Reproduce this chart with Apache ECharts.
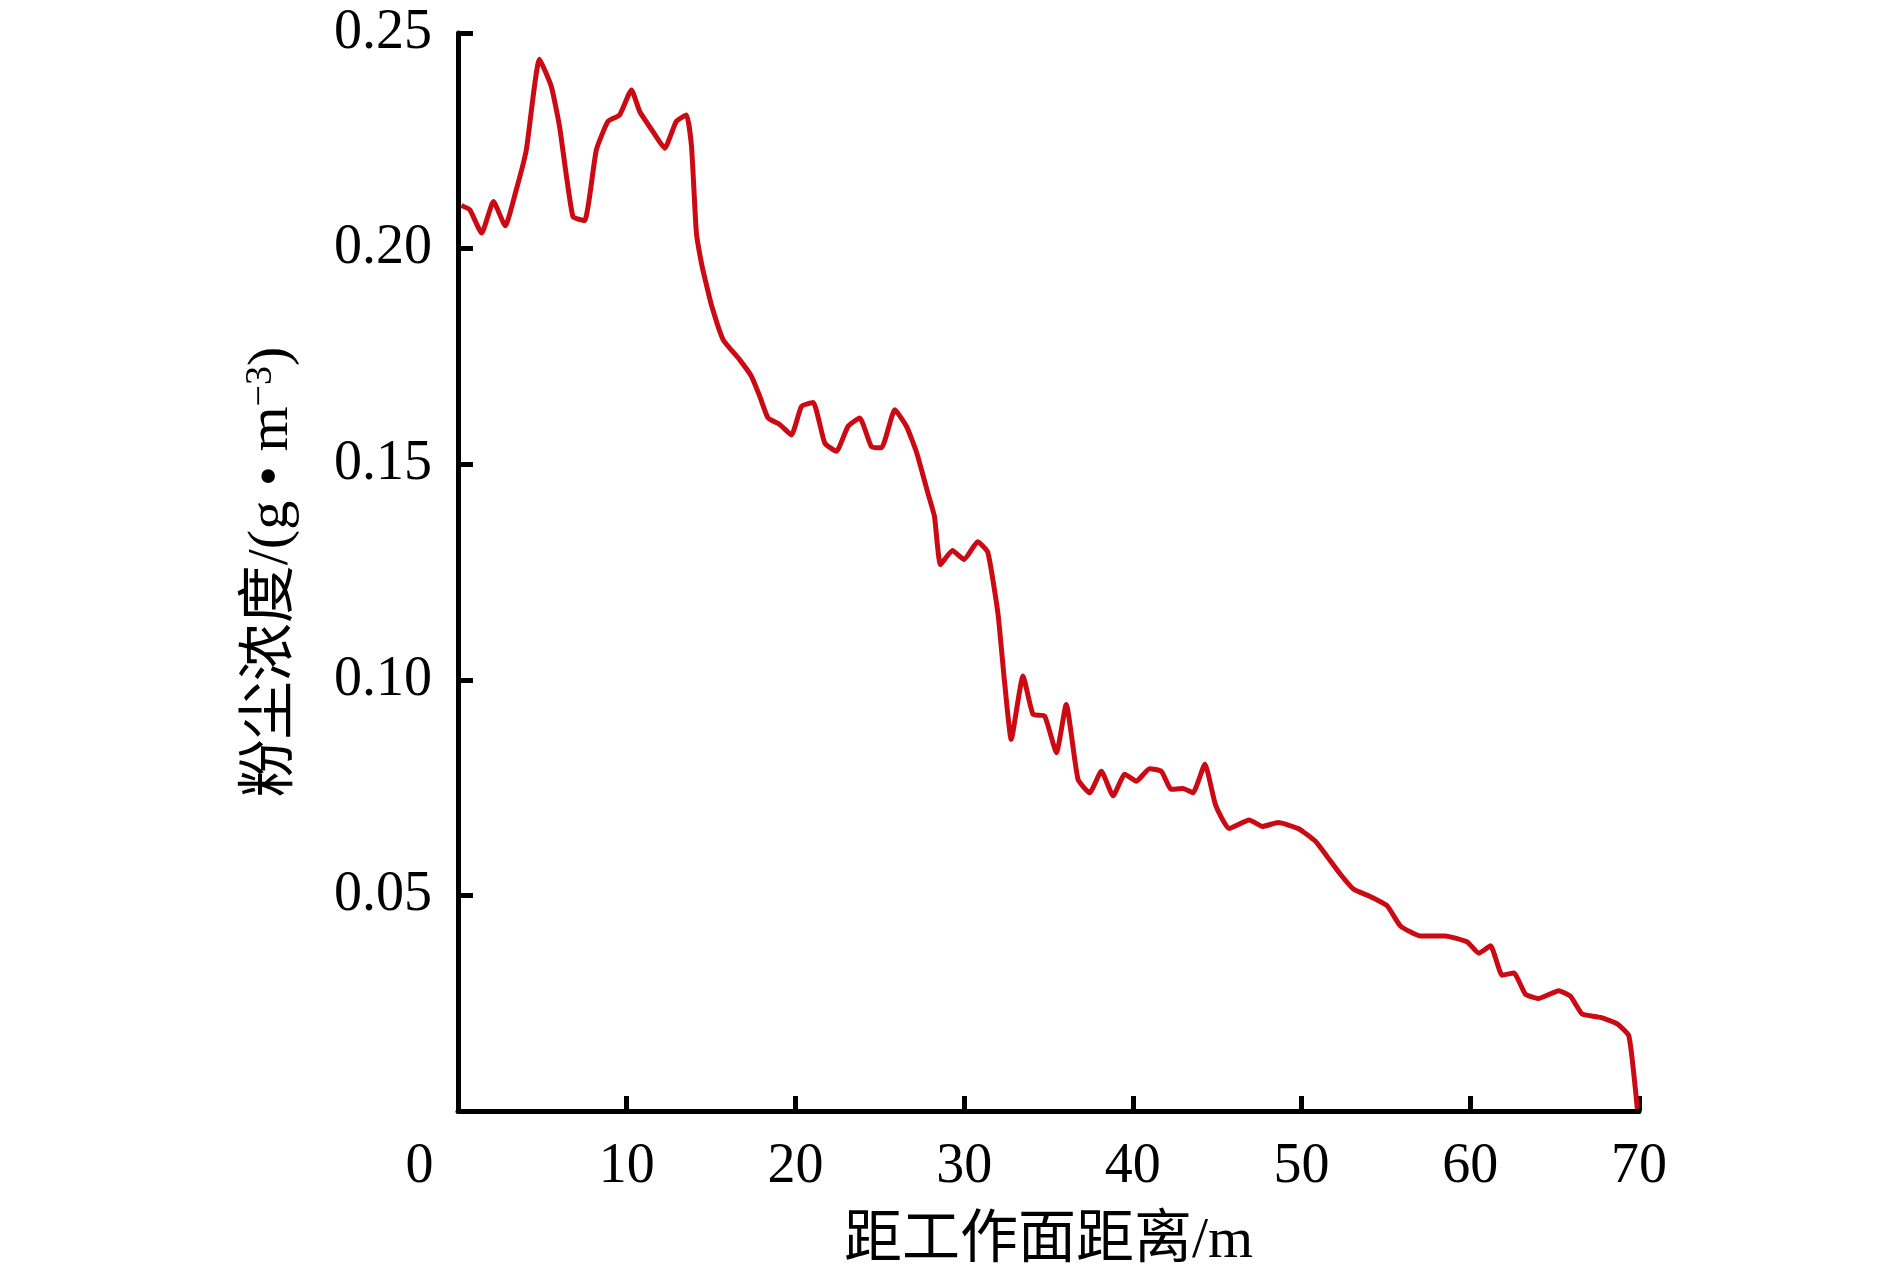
<!DOCTYPE html>
<html>
<head>
<meta charset="utf-8">
<title>粉尘浓度</title>
<script src="https://cdn.jsdelivr.net/npm/echarts@6/dist/echarts.min.js"></script>
<style>
  html, body { margin: 0; padding: 0; background: #fff; }
  #chartBox { width: 1890px; height: 1276px; }
</style>
</head>
<body>
<div id="chartBox"></div>
<script>
// 距工作面距离 (m)
let dist = [
  0.2, 0.7, 1.4, 2.1, 2.8, 3.45, 4.05, 4.83, 5.53, 6.02,
  6.81, 7.5, 8.2, 8.89, 9.58, 10.28, 10.77, 11.56, 12.25, 12.94,
  13.54, 13.84, 14.13, 14.43, 14.7, 15.05, 15.71, 16.7, 17.39, 17.89,
  18.38, 19.07, 19.76, 20.36, 21.05, 21.74, 22.43, 23.12, 23.81, 24.5,
  25.1, 25.89, 26.58, 27.2, 27.85, 28.24, 28.6, 29.3, 30.0, 30.8,
  31.4, 32.0, 32.4, 32.79, 33.49, 34.08, 34.77, 35.47, 36.05, 36.75,
  37.44, 38.13, 38.83, 39.52, 40.21, 40.99, 41.69, 42.28, 42.97, 43.56,
  44.27, 44.9, 45.7, 46.9, 47.68, 48.62, 49.8, 50.81, 51.5, 52.3,
  53.09, 53.98, 55.07, 55.86, 57.05, 58.52, 59.82, 60.5, 61.2, 61.89,
  62.58, 63.27, 64.06, 65.25, 65.94, 66.63, 67.72, 68.71, 69.4, 69.9
]
// 粉尘浓度 (g·m^-3)
let conc = [
  0.2100, 0.2090, 0.2036, 0.2109, 0.2053, 0.2136, 0.2229, 0.2439, 0.2376, 0.2283,
  0.2074, 0.2065, 0.2229, 0.2295, 0.2310, 0.2368, 0.2318, 0.2271, 0.2233, 0.2295,
  0.2310, 0.2237, 0.2036, 0.1966, 0.1920, 0.1865, 0.1789, 0.1742, 0.1704, 0.1657,
  0.1607, 0.1592, 0.1568, 0.1634, 0.1643, 0.1549, 0.1530, 0.1588, 0.1607, 0.1541,
  0.1538, 0.1626, 0.1588, 0.1525, 0.1433, 0.1379, 0.1267, 0.1300, 0.1279, 0.1320,
  0.1296, 0.1155, 0.0993, 0.0862, 0.1009, 0.0920, 0.0916, 0.0831, 0.0943, 0.0769,
  0.0738, 0.0788, 0.0731, 0.0781, 0.0765, 0.0794, 0.0788, 0.0746, 0.0748, 0.0738,
  0.0804, 0.0710, 0.0655, 0.0675, 0.0660, 0.0669, 0.0655, 0.0626, 0.0591, 0.0549,
  0.0514, 0.0499, 0.0476, 0.0429, 0.0406, 0.0406, 0.0392, 0.0366, 0.0383, 0.0315,
  0.0320, 0.0271, 0.0261, 0.0279, 0.0266, 0.0225, 0.0217, 0.0202, 0.0174, 0.0005
]
// 坐标轴刻度
let xTicks = [0, 10, 20, 30, 40, 50, 60, 70]
let yTicks = [0, 0.05, 0.10, 0.15, 0.20, 0.25]

let serif = "'Liberation Serif', 'Times New Roman', 'Noto Sans CJK SC', serif"
let myChart = echarts.init(document.getElementById('chartBox'))
myChart.setOption({
  animation: false,
  grid: {
    left: 458,
    right: 251,
    top: 33,
    bottom: 164
  },
  xAxis: {
    type: 'value',
    min: xTicks[0],
    max: xTicks[xTicks.length - 1],
    interval: 10,
    name: '距工作面距离/m',
    nameLocation: 'middle',
    nameGap: 102,
    nameTextStyle: {
      fontFamily: serif,
      fontSize: 58,
      color: '#000'
    },
    axisLine: { lineStyle: { color: '#000', width: 5 } },
    axisTick: { inside: true, length: 15, lineStyle: { color: '#000', width: 5 } },
    splitLine: { show: false },
    axisLabel: {
      margin: 28,
      fontFamily: serif,
      fontSize: 56,
      color: '#000',
      formatter: function (v) {
        // 原点 0 向左偏移
        return v === 0 ? '{o|0}' : String(v)
      },
      rich: {
        o: { fontFamily: serif, fontSize: 56, color: '#000', padding: [0, 77, 0, 0] }
      }
    }
  },
  yAxis: {
    type: 'value',
    min: yTicks[0],
    max: yTicks[yTicks.length - 1],
    interval: 0.05,
    name: '粉尘浓度/(g • m{sup|−3})',
    nameLocation: 'middle',
    nameRotate: 90,
    nameGap: 156,
    nameTextStyle: {
      fontFamily: serif,
      fontSize: 58,
      color: '#000',
      rich: {
        sup: { fontFamily: serif, fontSize: 38, color: '#000', verticalAlign: 'top', padding: [0, 0, 22, 0] }
      }
    },
    axisLine: { lineStyle: { color: '#000', width: 5 } },
    axisTick: { inside: true, length: 15, lineStyle: { color: '#000', width: 5 } },
    splitLine: { show: false },
    axisLabel: {
      margin: 26,
      fontFamily: serif,
      fontSize: 56,
      color: '#000',
      formatter: function (v) {
        return v === 0 ? '' : v.toFixed(2)
      }
    }
  },
  series: [{
    type: 'line',
    data: dist.map(function (d, i) {
      return [d, conc[i]]
    }),
    showSymbol: false,
    smooth: 0.15,
    lineStyle: { color: '#cc0a14', width: 5 }
  }]
})
</script>
</body>
</html>
